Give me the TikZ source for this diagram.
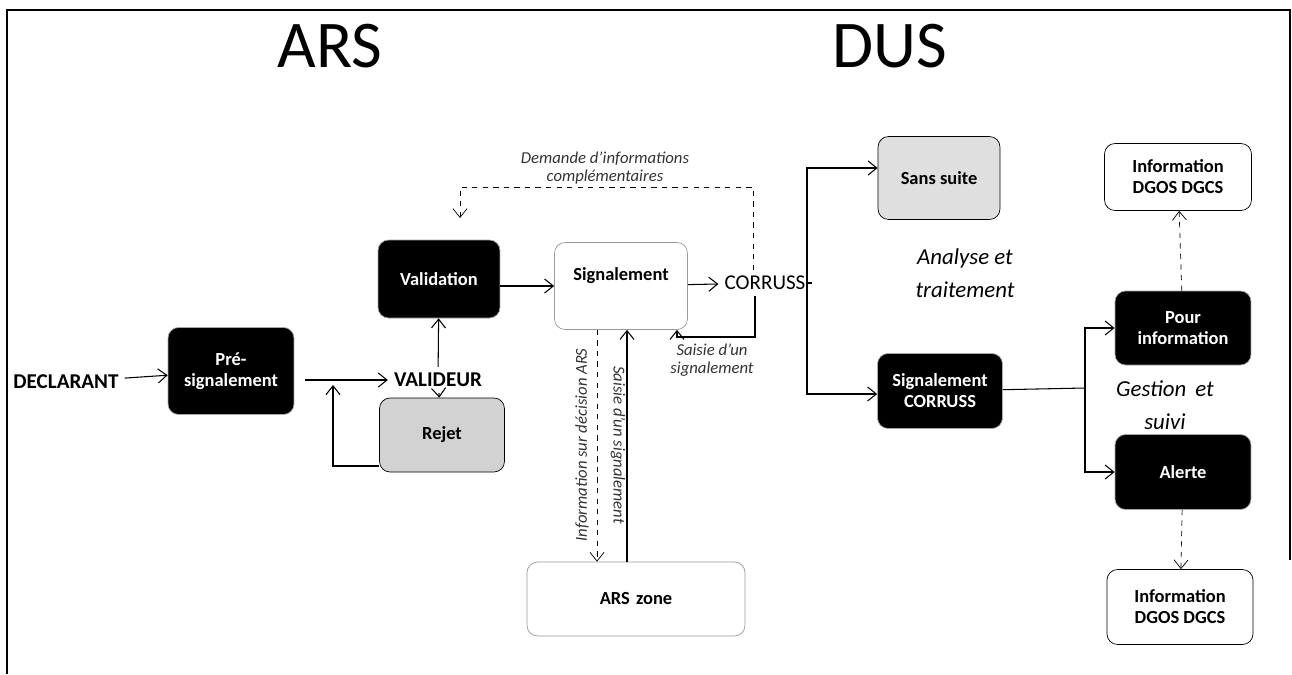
\documentclass[tikz,border=0pt]{standalone}
\usepackage{fontspec}
\setmainfont{Carlito}
\usepackage{tikz}
\usetikzlibrary{arrows.meta,%
	positioning,%
	calc}

\begin{document}
\begin{tikzpicture}[x=0.02cm, y=-0.02cm, boite/.style = {rounded corners=6pt, draw=gray!70, thin, font=\bfseries\fontsize{10.5}{12}\selectfont, align=center, inner sep=2pt}, noire/.style = {boite, fill=black, text=white}, grise/.style = {boite, fill=gray!25, draw=black}, blanche/.style = {boite, fill=white, draw=black}, arr/.style = {semithick, -{Straight Barb[length=5pt,width=8pt]}}, darr/.style = {arr, dashed, thin}, mot/.style = {font=\fontsize{12}{14}\selectfont}, note/.style = {font=\itshape\fontsize{9.5}{10.5}\selectfont, align=center, text=black!80}]
	\useasboundingbox (0,0) rectangle (1292,674);
	% cadre
	\draw[thick] (7,674) -- (7,10) -- (1290,10) -- (1290,560);
	\node[font=\fontsize{38}{38}\selectfont] (ars) at (330,46) {ARS};
	\node[font=\fontsize{38}{38}\selectfont] (dus) at (890,46) {DUS};
	% partie ARS
	\node[mot, font=\bfseries\fontsize{12}{14}\selectfont] (decl) at (66,382) {DECLARANT};
	\node[noire, minimum width=2.52cm, minimum height=1.74cm] (pre) at (231,371) {Pré-\\signalement};
	\node[mot, font=\bfseries\fontsize{12}{14}\selectfont] (valideur) at (438,380) {VALIDEUR};
	\node[noire, minimum width=2.44cm, minimum height=1.56cm] (valid) at (439,279) {Validation};
	\node[grise, fill=gray!35, minimum width=2.5cm, minimum height=1.48cm] (rejet) at (442,435) {Rejet};
	\node[blanche, draw=gray!80, minimum width=2.66cm, minimum height=1.74cm] (signal) at (621,286) {Signalement\\[2pt]};
	\node[mot] (corruss) at (765,283) {CORRUSS};
	\node[blanche, draw=gray!80, minimum width=4.36cm, minimum height=1.48cm] (arszone) at (636,599) {ARS\,\,zone};
	% partie DUS
	\node[grise, minimum width=2.44cm, minimum height=1.66cm] (sans) at (939,178) {Sans suite};
	\node[noire, minimum width=2.5cm, minimum height=1.5cm] (sigc) at (940,391) {Signalement\\CORRUSS};
	\node[noire, minimum width=2.72cm, minimum height=1.48cm] (pour) at (1183,328) {Pour\\information};
	\node[noire, minimum width=2.72cm, minimum height=1.5cm] (alerte) at (1183,472) {Alerte};
	\node[blanche, minimum width=2.94cm, minimum height=1.34cm] (infohaut) at (1178,177) {Information\\DGOS DGCS};
	\node[blanche, minimum width=2.92cm, minimum height=1.5cm] (infobas) at (1180,607) {Information\\DGOS DGCS};
	% textes
	\node[note] (demande) at (605,168) {Demande d'informations\\complémentaires};
	\node[note] (saisie) at (712,360) {Saisie d'un\\signalement};
	\node[note, rotate=90] (infodec) at (582,445) {Information sur décision ARS};
	\node[note, rotate=-90] (saisie2) at (618,445) {Saisie d'un signalement};
	\node[font=\itshape\fontsize{13}{19}\selectfont, align=center] (analyse) at (965,273) {Analyse et\\traitement};
	\node[font=\itshape\fontsize{13}{19}\selectfont, align=center] (gestion) at (1165,405) {Gestion \,et\\suivi};
	% points de passage
	\coordinate (retour) at (333,385);
	\coordinate (demcoin) at (460,187);
	\coordinate (demfin) at (460,218);
	\coordinate (saicoin) at (677,337);
	\coordinate (branche1) at (807,283);
	\coordinate (branche2) at (1085,388);
	% fleches
	\draw[arr] (decl) -- (pre);
	\draw[arr] ([xshift=0.22cm]pre.east |- valideur) -- (valideur);
	\draw[arr] (valideur) -- (valid);
	\draw[arr] (valideur) -- (rejet);
	\draw[arr] ([yshift=-0.62cm]rejet.west) -| (retour);
	\draw[arr] (valid.east |- signal) -- (signal);
	\draw[arr] (signal) -- (corruss);
	\draw[darr] ([xshift=-0.24cm]corruss.north) |- (demcoin) -- (demfin);
	\draw[arr] ([xshift=-0.2cm]corruss.south) |- (saicoin) -- (saicoin |- signal.south);
	\draw[darr] ([xshift=-0.48cm]signal.south) -- ([xshift=-0.48cm]signal.south |- arszone.north);
	\draw[arr] ([xshift=-0.18cm]arszone.north) -- ([xshift=-0.18cm]arszone.north |- signal.south);
	\draw[semithick] (corruss) -- (branche1);
	\draw[arr] (branche1) |- ([yshift=0.2cm]sans.west);
	\draw[arr] (branche1) |- ([yshift=-0.06cm]sigc.west);
	\draw[semithick] (sigc) -- (branche2);
	\draw[arr] (branche2) |- (pour.west);
	\draw[arr] (branche2) |- (alerte.west);
	\draw[darr] (pour) -- (infohaut);
	\draw[darr] (alerte) -- (infobas);
\end{tikzpicture}
\end{document}
